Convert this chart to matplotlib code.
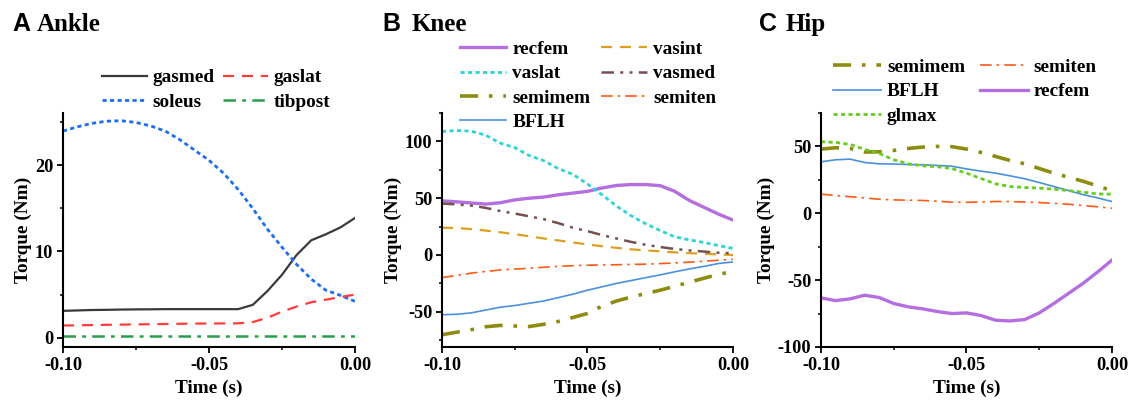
import numpy as np
import matplotlib
matplotlib.use("Agg")
import matplotlib.pyplot as plt
from matplotlib.ticker import MultipleLocator

plt.rcParams['font.family'] = 'Liberation Serif'
plt.rcParams['font.weight'] = 'bold'
plt.rcParams['axes.unicode_minus'] = False

# time grid (s)
t = [-0.100, -0.095, -0.090, -0.085, -0.080, -0.075, -0.070, -0.065, -0.060, -0.055,
     -0.050, -0.045, -0.040, -0.035, -0.030, -0.025, -0.020, -0.015, -0.010, -0.005, 0.000]

# ankle torques (Nm)
ank_gasmed = [3.1, 3.15, 3.2, 3.22, 3.25, 3.27, 3.28, 3.3, 3.3, 3.3, 3.3, 3.3, 3.3,
              3.8, 5.4, 7.3, 9.6, 11.3, 12.0, 12.8, 13.9]
ank_gaslat = [1.4, 1.42, 1.45, 1.48, 1.5, 1.52, 1.55, 1.57, 1.6, 1.62, 1.63, 1.64, 1.65,
              1.8, 2.3, 3.0, 3.6, 4.1, 4.4, 4.7, 5.0]
ank_soleus = [24.0, 24.5, 24.9, 25.15, 25.2, 25.0, 24.6, 24.0, 23.0, 21.8, 20.6, 19.1, 17.2,
              15.0, 12.6, 10.5, 8.5, 6.8, 5.5, 4.9, 4.2]
ank_tibpost = [0.2] * 21

# knee torques (Nm)
kn_recfem = [47.7, 46.8, 45.8, 44.8, 46, 48.5, 50, 51, 53, 54.5, 56, 59, 61.2, 62, 62, 61,
             56, 48, 42, 36, 30.7]
kn_vasint = [24, 23.8, 22.8, 21.5, 20, 18.3, 16.5, 14.5, 12.8, 11, 9.3, 7.7, 6.3, 5, 4, 3.2,
             2.3, 1.6, 1, 0.5, 0]
kn_vaslat = [108.8, 109.6, 109, 105.5, 98.5, 94.5, 87.5, 83, 76, 71, 62.5, 53, 43, 34.5, 27.5,
             21.5, 16, 13.3, 11, 8.3, 5.8]
kn_vasmed = [45.3, 44.5, 43.5, 41.5, 38.7, 36.5, 34, 31.5, 28, 24, 21, 17.5, 14.5, 11.5, 9, 7,
             5.3, 4, 3, 2, 1.5]
kn_semimem = [-70.2, -68, -65.8, -63.2, -62, -62.5, -63, -61, -58.5, -55, -51.5, -45, -40.5,
              -37, -34, -31, -27.5, -24, -20.5, -17, -14.6]
kn_semiten = [-19.9, -18, -16, -14.5, -13.2, -12.4, -11.7, -10.8, -10, -9.4, -9, -8.8, -8.6,
              -8.3, -8.1, -7.6, -7, -6.3, -5.5, -4.6, -3.8]
kn_bflh = [-52.6, -52.2, -51, -48.5, -46, -44.5, -42.5, -40.5, -37.5, -34.5, -31, -28, -25,
           -22.5, -20, -17.5, -14.8, -12.3, -10, -7.5, -6.1]

# hip torques (Nm)
hip_semimem = [48, 49, 48.5, 45.8, 46, 47, 48.5, 49.5, 50, 49.8, 48, 45.5, 42.5, 39.5, 37,
               33.5, 30, 27, 24, 20.5, 16.8]
hip_semiten = [14.3, 13.3, 12.4, 11.5, 10.5, 10, 9.8, 9.6, 9, 8.3, 8.2, 8.5, 8.8, 8.8, 8.4, 8,
               7.5, 6.8, 5.8, 4.8, 3.8]
hip_bflh = [38.5, 40, 40.5, 38, 37, 36.8, 36.5, 36.3, 35.8, 35.2, 33.2, 31.5, 30, 28, 25.8, 23,
            20, 17, 14, 11.5, 8.8]
hip_recfem = [-63.3, -65.3, -64, -61.3, -63, -67.5, -70, -71.5, -73.5, -75, -74.5, -76.5, -80,
              -80.5, -79.5, -74.5, -67.5, -60, -52.5, -44, -35]
hip_glmax = [53.5, 53, 51.5, 47.8, 44.8, 40, 37, 35.5, 34.8, 33.5, 30, 26, 22, 20, 19.3, 18.8,
             18, 17, 15.8, 14.5, 14.3]

# colours / styles
C_GASMED, C_GASLAT, C_SOLEUS, C_TIBPOST = '#3a3a3a', '#ff3b3b', '#1e6ff0', '#2a9d4c'
C_RECFEM, C_VASINT, C_VASLAT, C_VASMED = '#b46ee0', '#dca01e', '#2ed3d3', '#76504e'
C_SEMIMEM, C_SEMITEN, C_BFLH, C_GLMAX = '#8c8c10', '#ff5a14', '#4a90dd', '#66cc1e'

FS = 13.9

fig = plt.figure(figsize=(11.31, 4.01), dpi=100)
ax1 = fig.add_axes([0.0557, 0.1347, 0.2582, 0.5835])
ax2 = fig.add_axes([0.3908, 0.1347, 0.2573, 0.5835])
ax3 = fig.add_axes([0.7259, 0.1347, 0.2573, 0.5835])

# A ankle (plot order chosen so the 2-column legend reads row by row)
ax1.plot(t, ank_gasmed, color=C_GASMED, lw=1.6, label='gasmed')
ax1.plot(t, ank_soleus, color=C_SOLEUS, lw=2, dashes=(1.5, 1.2), label='soleus')
ax1.plot(t, ank_gaslat, color=C_GASLAT, lw=1.6, dashes=(5, 3.5), label='gaslat')
ax1.plot(t, ank_tibpost, color=C_TIBPOST, lw=1.8, dashes=(5, 2.5, 1.5, 2.5), label='tibpost')
ax1.set_ylim(-1.1, 26.1)
ax1.yaxis.set_major_locator(MultipleLocator(10))
ax1.yaxis.set_minor_locator(MultipleLocator(5))

# B knee
ax2.plot(t, kn_recfem, color=C_RECFEM, lw=2.4, label='recfem')
ax2.plot(t, kn_vaslat, color=C_VASLAT, lw=2, dashes=(1.5, 1.2), label='vaslat')
ax2.plot(t, kn_semimem, color=C_SEMIMEM, lw=2.6, dashes=(5, 3, 1, 3), label='semimem')
ax2.plot(t, kn_bflh, color=C_BFLH, lw=1.2, label='BFLH')
ax2.plot(t, kn_vasint, color=C_VASINT, lw=1.6, dashes=(5, 3.5), label='vasint')
ax2.plot(t, kn_vasmed, color=C_VASMED, lw=1.8, dashes=(5, 2.5, 1.2, 2.5, 1.2, 2.5), label='vasmed')
ax2.plot(t, kn_semiten, color=C_SEMITEN, lw=1.2, dashes=(7, 3, 1.5, 3), label='semiten')
ax2.set_ylim(-81, 125)
ax2.yaxis.set_major_locator(MultipleLocator(50))
ax2.yaxis.set_minor_locator(MultipleLocator(25))

# C hip
ax3.plot(t, hip_semimem, color=C_SEMIMEM, lw=2.6, dashes=(5, 3, 1, 3), label='semimem')
ax3.plot(t, hip_bflh, color=C_BFLH, lw=1.2, label='BFLH')
ax3.plot(t, hip_glmax, color=C_GLMAX, lw=2, dashes=(1.5, 1.2), label='glmax')
ax3.plot(t, hip_semiten, color=C_SEMITEN, lw=1.2, dashes=(7, 3, 1.5, 3), label='semiten')
ax3.plot(t, hip_recfem, color=C_RECFEM, lw=2.4, label='recfem')
ax3.set_ylim(-100, 75)
ax3.yaxis.set_major_locator(MultipleLocator(50))
ax3.yaxis.set_minor_locator(MultipleLocator(25))

for ax in (ax1, ax2, ax3):
    ax.set_xlim(-0.1, 0.0)
    ax.set_xticks([-0.10, -0.05, 0.00])
    ax.set_xticklabels(['-0.10', '-0.05', '0.00'])
    ax.xaxis.set_minor_locator(MultipleLocator(0.025))
    ax.spines['top'].set_visible(False)
    ax.spines['right'].set_visible(False)
    for s in ('left', 'bottom'):
        ax.spines[s].set_linewidth(1.5)
    ax.tick_params(which='major', length=4, width=1.3, labelsize=13.2, pad=3)
    ax.tick_params(which='minor', length=2.5, width=1.1)
    ax.set_xlabel('Time (s)', fontsize=FS, fontweight='bold', labelpad=4)
    ax.set_ylabel('Torque (Nm)', fontsize=FS, fontweight='bold', labelpad=2)

leg_kw = dict(loc='upper left', ncol=2, frameon=False, borderpad=0, borderaxespad=0,
              handletextpad=0.3, labelspacing=0.35,
              prop={'family': 'Liberation Serif', 'weight': 'bold', 'size': FS})
ax1.legend(bbox_to_anchor=(0.134, 1.189), handlelength=2.3, columnspacing=0.45, **leg_kw)
ax2.legend(bbox_to_anchor=(0.062, 1.309), handlelength=2.4, columnspacing=0.55, **leg_kw)
ax3.legend(bbox_to_anchor=(0.041, 1.233), handlelength=2.5, columnspacing=0.75, **leg_kw)

# panel titles
for x_letter, x_word, letter, word in [(0.0106, 0.0327, 'A', 'Ankle'),
                                       (0.3378, 0.3643, 'B', 'Knee'),
                                       (0.6711, 0.6950, 'C', 'Hip')]:
    fig.text(x_letter, 0.9227, letter, fontsize=18, fontweight='bold',
             family='Liberation Sans', va='baseline')
    fig.text(x_word, 0.9227, word, fontsize=18, fontweight='bold',
             family='Liberation Serif', va='baseline')

fig.savefig('out.png', dpi=100)
